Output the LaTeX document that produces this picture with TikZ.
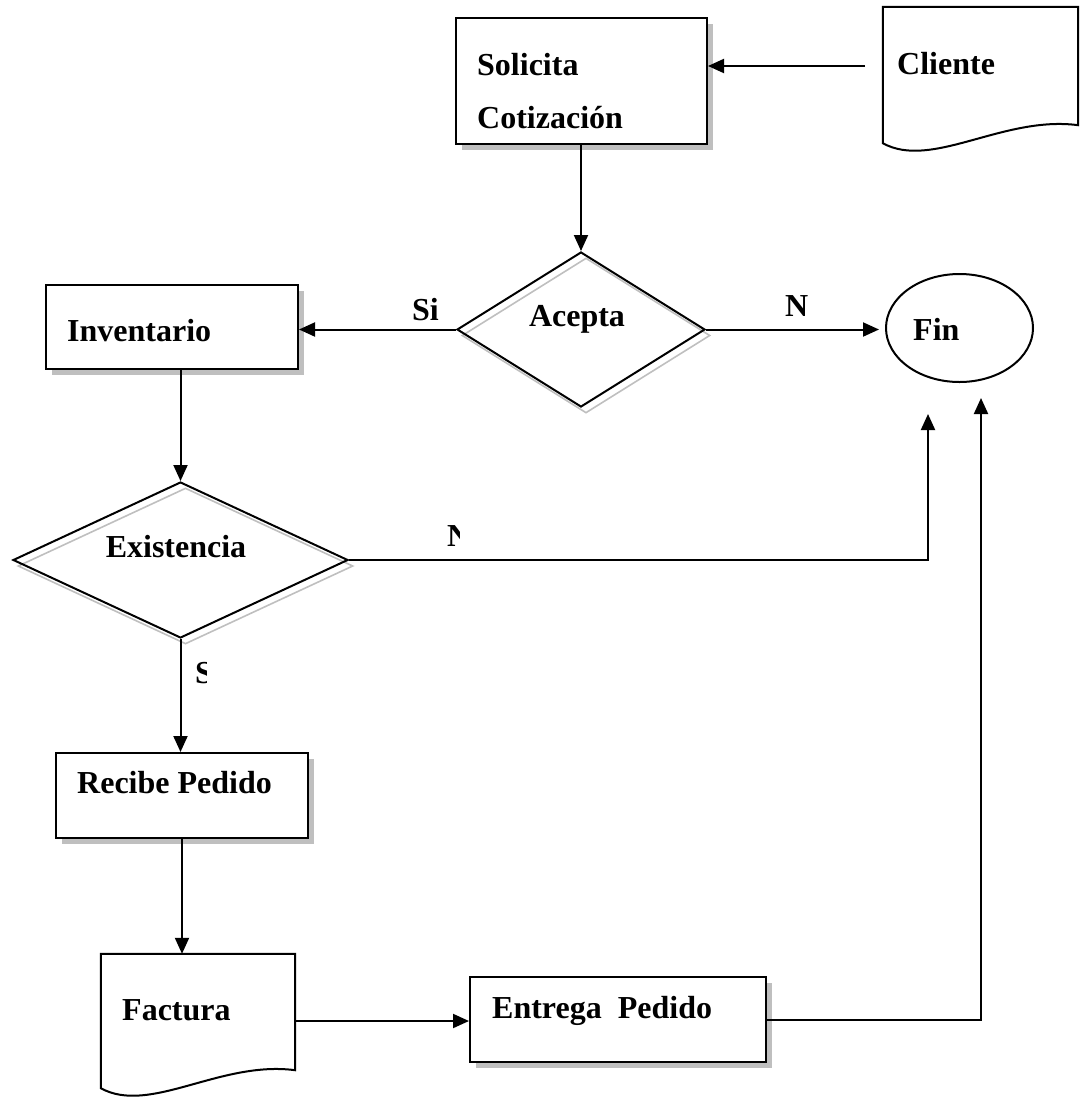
\documentclass[tikz,border=0pt]{standalone}
\usepackage{fontspec}
\setmainfont{Liberation Serif}
\usetikzlibrary{shapes.geometric,shadows,arrows.meta,calc}

% document symbol: straight top and sides, wavy bottom edge
\newcommand\docoutline[1]{%
  \draw[ln,fill=white] (#1.north west) -- (#1.north east) -- ($(#1.south east)+(0,-18)$)
    .. controls ($(#1.south east)+(-75,-28)$) and ($(#1.south west)+(49,27)$) .. (#1.south west) -- cycle;}

\tikzset{
  ln/.style={line width=2pt, black},
  arr/.style={ln, -{Triangle[length=16pt,width=14pt]}},
  txt/.style={anchor=base west, inner sep=0pt, font=\fontsize{32}{38}\selectfont\bfseries},
  procbox/.style={rectangle, ln, draw, fill=white, inner sep=0pt,
    drop shadow={shadow xshift=6pt, shadow yshift=-6pt, opacity=1, fill=black!25}},
  docbox/.style={rectangle, draw=none, inner sep=0pt},
  decision/.style={diamond, ln, draw, inner sep=0pt},
  decshadow/.style={diamond, draw=black!25, line width=1.6pt, inner sep=0pt},
  endnode/.style={ellipse, ln, draw, fill=white, inner sep=0pt},
}

\begin{document}
\begin{tikzpicture}[x=1pt, y=-1pt]
\useasboundingbox (0,0) rectangle (1083,1098);

% ---- shapes ----
\node[procbox, minimum width=251pt, minimum height=126pt] (sol) at (581.5,81) {};
\node[docbox, minimum width=195pt, minimum height=136pt] (cli) at (980.5,75) {};
\docoutline{cli}

\node[decshadow, minimum width=248pt, minimum height=155pt] (aceS) at (586,335.5) {};
\node[decision, minimum width=248pt, minimum height=155pt] (ace) at (581,329.5) {};

\node[endnode, minimum width=147pt, minimum height=108pt] (fin) at (959.5,328) {};

\node[procbox, minimum width=252pt, minimum height=84pt] (inv) at (172,327) {};

\node[decshadow, minimum width=335pt, minimum height=156pt] (exiS) at (185.5,566) {};
\node[decision, minimum width=335pt, minimum height=156pt] (exi) at (180.5,560) {};

\node[procbox, minimum width=252pt, minimum height=85pt] (rec) at (182,795.5) {};

\node[docbox, minimum width=194pt, minimum height=134pt] (fac) at (198,1021) {};
\docoutline{fac}

\node[procbox, minimum width=296pt, minimum height=85pt] (ent) at (618,1019.5) {};

% ---- texts ----
\node[txt] (solT1) at (477,75) {Solicita};
\node[txt] (solT2) at (477,128) {Cotización};
\node[txt] (cliT) at (897,74) {Cliente};
\node[txt, anchor=base] (aceT) at (577,326) {Acepta};
\node[txt] (finT) at (913,340) {Fin};
\node[txt] (invT) at (67,341) {Inventario};
\node[txt, anchor=base] (exiT) at (176,557) {Existencia};
\node[txt] (recT) at (77,793) {Recibe Pedido};
\node[txt] (facT) at (122,1020) {Factura};
\node[txt] (entT) at (492,1018) {Entrega\ \ Pedido};

\node[txt] (siT) at (412,320) {Si};
\node[txt] (noT) at (785,316) {N};
\begin{scope}
  \clip (440,500) rectangle (459,560);
  \node[txt] (noExiT) at (447,546) {N};
\end{scope}
\begin{scope}
  \clip (190,650) rectangle (206,690);
  \node[txt] (siExiT) at (195,683) {S};
\end{scope}

% ---- connectors ----
\coordinate (cliOut) at (865,66);
\draw[arr] (cliOut) -- (cliOut -| sol.east);
\draw[arr] (ace.north |- sol.south) -- (ace.north);
\draw[arr] (ace.west) -- (ace.west -| inv.east);
\draw[arr, shorten >=6pt] (ace.east) -- (ace.east -| fin.west);
\draw[arr] (exi.north |- inv.south) -- (exi.north);

\coordinate (finA) at (928,414);
\draw[arr] (exi.east) -| (finA);

\draw[arr] (exi.south) -- (exi.south |- rec.north);
\draw[arr] (rec.south) -- (rec.south |- fac.north);
\draw[arr] (fac.east) -- (fac.east -| ent.west);

\coordinate (finB) at (981,398);
\draw[arr] (ent.east) -| (finB);
\end{tikzpicture}
\end{document}
